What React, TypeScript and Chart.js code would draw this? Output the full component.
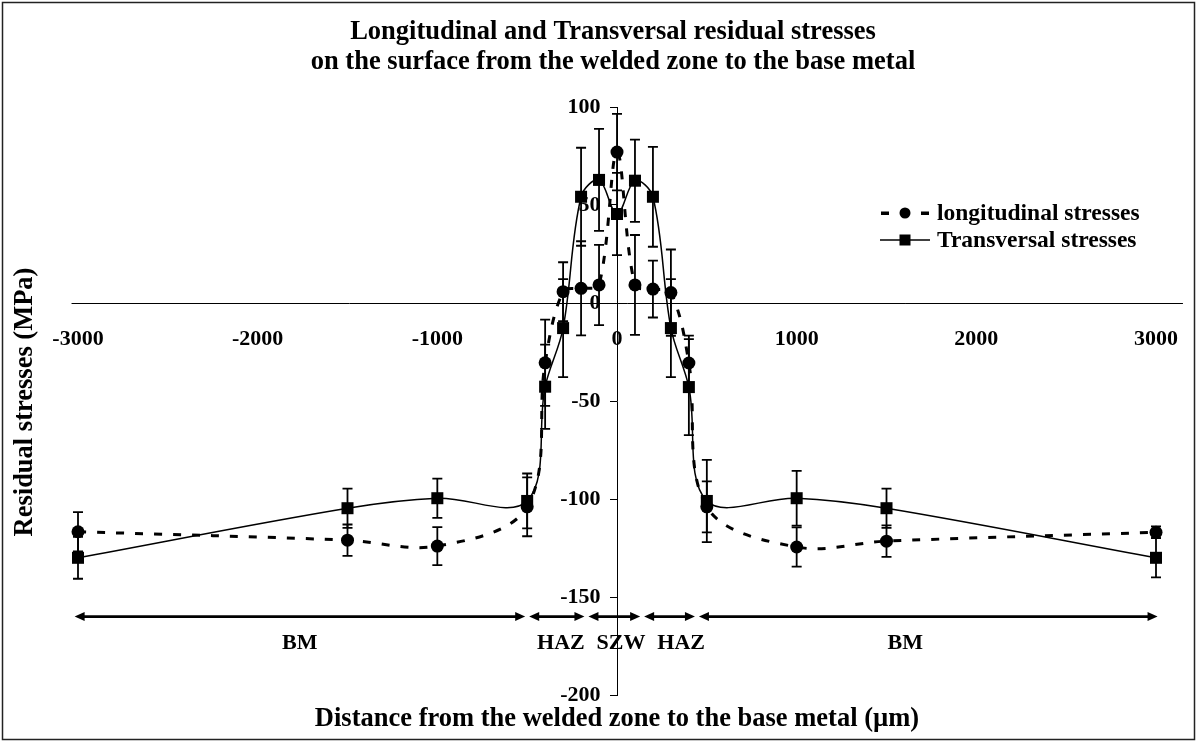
import React, { useEffect, useRef } from 'react';
import { Chart, registerables } from 'chart.js';

Chart.register(...registerables);

// ---------- data ----------
const distances = [-3000, -1500, -1000, -500, -400, -300, -200, -100, 0, 100, 200, 300, 400, 500, 1000, 1500, 3000];
const longitudinal = [-116.7, -121, -124, -104, -30.5, 5.8, 7.5, 9.2, 77, 9.2, 7.1, 5.3, -30.6, -104, -124.5, -121.5, -117];
const longitudinalErr = [10, 8, 9.7, 15, 22, 15, 24, 20.5, 19.5, 25.5, 14.5, 22, 14, 13, 10, 8, 3];
const transversal = [-130, -104.7, -99.6, -101, -42.7, -12.8, 54.2, 62.8, 45.4, 62.4, 54.2, -12.8, -42.9, -101, -99.6, -104.7, -130];
const transversalErr = [10.7, 10, 10, 14, 21.5, 25, 25, 26, 21, 21, 25.5, 25, 24.5, 21, 14, 10, 10];

const seriesNames = ['longitudinal stresses', 'Transversal stresses'];
const titleLines = [
  'Longitudinal and Transversal residual stresses',
  'on the surface from the welded zone to the base metal',
];
const xTitle = 'Distance from the welded zone to the base metal (µm)';
const yTitle = 'Residual stresses (MPa)';

// axis settings
const xMin = -3000;
const xMax = 3000;
const xStep = 1000;
const xAxisLineExtent = [-3036, 3150];
const yMin = -200;
const yMax = 100;
const yStep = 50;

// zones along the x axis (µm)
const zoneBounds = [-3030, -500, -170, 140, 445, 3020];
const zoneLabels = ['BM', 'HAZ', 'SZW', 'HAZ', 'BM'];
const zoneLabelX = [-1766, -312, 22, 357, 1604];
const zoneArrowY = -160;
const zoneLabelY = -173.5;

const FONT = "'Liberation Serif', 'Times New Roman', Times, serif";

const frameBg = {
  id: 'frameBg',
  beforeDraw(chart: any) {
    const { ctx, width, height } = chart;
    ctx.save();
    ctx.fillStyle = '#fff';
    ctx.fillRect(0, 0, width, height);
    ctx.strokeStyle = '#222';
    ctx.lineWidth = 1.5;
    ctx.strokeRect(2.5, 2.5, width - 5, height - 5);
    ctx.restore();
  },
};

const axisLine = {
  id: 'axisLine',
  beforeDatasetsDraw(chart: any) {
    const { ctx } = chart;
    const xs = chart.scales.x;
    const ys = chart.scales.y;
    const y = Math.round(ys.getPixelForValue(0)) + 0.5;
    ctx.save();
    ctx.strokeStyle = '#000';
    ctx.lineWidth = 1;
    ctx.beginPath();
    ctx.moveTo(xs.getPixelForValue(xAxisLineExtent[0]), y);
    ctx.lineTo(xs.getPixelForValue(xAxisLineExtent[1]), y);
    ctx.stroke();
    ctx.restore();
  },
};

const errorBars = {
  id: 'errorBars',
  beforeDatasetsDraw(chart: any) {
    const { ctx } = chart;
    const xs = chart.scales.x;
    const ys = chart.scales.y;
    const sets = [
      { v: longitudinal, e: longitudinalErr },
      { v: transversal, e: transversalErr },
    ];
    ctx.save();
    ctx.strokeStyle = '#000';
    ctx.lineWidth = 1.8;
    sets.forEach((s) => {
      distances.forEach((d, i) => {
        const err = s.e[i];
        if (!err) return;
        const px = xs.getPixelForValue(d);
        const top = ys.getPixelForValue(s.v[i] + err);
        const bot = ys.getPixelForValue(s.v[i] - err);
        ctx.beginPath();
        ctx.moveTo(px, top);
        ctx.lineTo(px, bot);
        ctx.moveTo(px - 5, top);
        ctx.lineTo(px + 5, top);
        ctx.moveTo(px - 5, bot);
        ctx.lineTo(px + 5, bot);
        ctx.stroke();
      });
    });
    ctx.restore();
  },
};

const extras = {
  id: 'extras',
  afterDraw(chart: any) {
    const { ctx } = chart;
    const xs = chart.scales.x;
    const ys = chart.scales.y;
    ctx.save();
    ctx.fillStyle = '#000';
    ctx.strokeStyle = '#000';

    // title
    ctx.font = `bold 26.5px ${FONT}`;
    ctx.textAlign = 'center';
    ctx.textBaseline = 'middle';
    ctx.fillText(titleLines[0], 613, 32);
    ctx.fillText(titleLines[1], 613, 62);

    // zone arrows
    const ay = ys.getPixelForValue(zoneArrowY);
    for (let k = 0; k < zoneBounds.length - 1; k++) {
      const a = xs.getPixelForValue(zoneBounds[k]) + 2;
      const b = xs.getPixelForValue(zoneBounds[k + 1]) - 2;
      ctx.lineWidth = 2.8;
      ctx.beginPath();
      ctx.moveTo(a + 4, ay);
      ctx.lineTo(b - 4, ay);
      ctx.stroke();
      ctx.beginPath();
      ctx.moveTo(a, ay);
      ctx.lineTo(a + 10, ay - 4.5);
      ctx.lineTo(a + 10, ay + 4.5);
      ctx.closePath();
      ctx.fill();
      ctx.beginPath();
      ctx.moveTo(b, ay);
      ctx.lineTo(b - 10, ay - 4.5);
      ctx.lineTo(b - 10, ay + 4.5);
      ctx.closePath();
      ctx.fill();
    }
    ctx.font = `bold 22px ${FONT}`;
    const ly = ys.getPixelForValue(zoneLabelY);
    zoneLabels.forEach((t, i) => ctx.fillText(t, xs.getPixelForValue(zoneLabelX[i]), ly));

    // axis titles
    ctx.font = `bold 26.5px ${FONT}`;
    ctx.fillText(xTitle, 617, 719);
    ctx.save();
    ctx.translate(25, 402);
    ctx.rotate(-Math.PI / 2);
    ctx.fillText(yTitle, 0, 0);
    ctx.restore();

    // legend
    ctx.font = `bold 23.5px ${FONT}`;
    ctx.textAlign = 'left';
    const lx = 880;
    const r1 = 213;
    const r2 = 240;
    ctx.fillRect(881, r1 - 1.5, 8, 3.5);
    ctx.fillRect(921, r1 - 1.5, 8, 3.5);
    ctx.beginPath();
    ctx.arc(905, r1, 5.5, 0, Math.PI * 2);
    ctx.fill();
    ctx.fillText(seriesNames[0], 937, r1 + 1);
    ctx.lineWidth = 1.5;
    ctx.beginPath();
    ctx.moveTo(lx, r2);
    ctx.lineTo(lx + 50, r2);
    ctx.stroke();
    ctx.fillRect(899.5, r2 - 5.5, 11, 11);
    ctx.fillText(seriesNames[1], 937, r2 + 1);
    ctx.restore();
  },
};

export default function App() {
  const ref = useRef<HTMLCanvasElement>(null);
  useEffect(() => {
    document.body.style.margin = '0';
    const canvas = ref.current!;
    const tickFont = { family: FONT, size: 22, weight: 'bold' as const };
    const chart = new Chart(canvas, {
      type: 'scatter',
      data: {
        datasets: [
          {
            label: seriesNames[0],
            data: distances.map((x, i) => ({ x, y: longitudinal[i] })),
            showLine: true,
            borderColor: '#000',
            borderWidth: 3,
            borderDash: [8, 11],
            tension: 0.35,
            pointStyle: 'circle',
            pointRadius: 6.5,
            pointBackgroundColor: '#000',
            pointBorderColor: '#000',
            pointBorderWidth: 0,
            clip: false,
          },
          {
            label: seriesNames[1],
            data: distances.map((x, i) => ({ x, y: transversal[i] })),
            showLine: true,
            borderColor: '#000',
            borderWidth: 1.5,
            tension: 0.35,
            pointStyle: 'rect',
            pointRadius: 8.5,
            pointBackgroundColor: '#000',
            pointBorderColor: '#000',
            pointBorderWidth: 0,
            clip: false,
          },
        ],
      },
      options: {
        responsive: false,
        animation: false,
        devicePixelRatio: 1,
        layout: { padding: { left: 78, right: 41, top: 107, bottom: 47 } },
        scales: {
          x: {
            type: 'linear',
            min: xMin,
            max: xMax,
            position: { y: 0 } as any,
            afterFit: (s: any) => { s.height = 0; s.paddingLeft = 0; s.paddingRight = 0; },
            grid: { display: false, drawTicks: false },
            border: { display: false },
            ticks: {
              stepSize: xStep,
              font: tickFont,
              color: '#000',
              padding: 23,
              maxRotation: 0,
              autoSkip: false,
              callback: (v: any) => String(v),
            },
          },
          y: {
            type: 'linear',
            min: yMin,
            max: yMax,
            position: { x: 0 } as any,
            afterFit: (s: any) => { s.width = 0; s.paddingTop = 0; s.paddingBottom = 0; },
            grid: { display: true, drawOnChartArea: false, drawTicks: true, tickLength: 7, color: '#000', lineWidth: 1 },
            border: { display: true, color: '#000', width: 1 },
            ticks: {
              stepSize: yStep,
              font: tickFont,
              color: '#000',
              padding: 11,
              callback: (v: any) => `${v}\u2007 `,
            },
          },
        },
        plugins: {
          legend: { display: false },
          tooltip: { enabled: false },
          title: { display: false },
        },
      },
      plugins: [frameBg, axisLine, errorBars, extras],
    });
    return () => chart.destroy();
  }, []);
  return <canvas ref={ref} width={1197} height={742} style={{ display: 'block' }} />;
}
